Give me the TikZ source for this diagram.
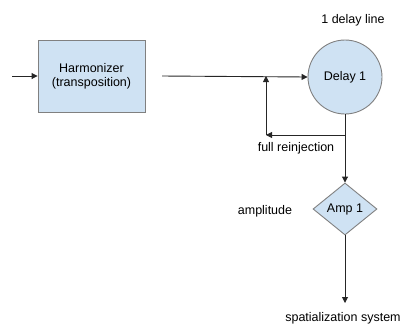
\documentclass[tikz,border=0pt]{standalone}
\usepackage{fontspec}
\setmainfont{Liberation Sans}
\usetikzlibrary{shapes.geometric,arrows.meta}
\definecolor{boxfill}{HTML}{CFE2F3}
\definecolor{boxedge}{HTML}{808080}
\begin{document}
\begin{tikzpicture}[x=1pt,y=-1pt,
  every node/.style={font=\fontsize{12.5}{14}\selectfont, inner sep=0pt},
  block/.style={draw=boxedge, fill=boxfill, line width=0.9pt},
  link/.style={draw=black!85, line width=0.9pt},
  arr/.style={link, -{Triangle[length=6pt,width=6pt]}}]
  \useasboundingbox (0,0) rectangle (406,325);
  % blocks
  \node[block, minimum width=107pt, minimum height=72pt, align=center] (harm) at (91.5,76) {Harmonizer\\(transposition)};
  \node[block, circle, minimum size=74pt] (delay) at (345,77) {Delay 1};
  \node[block, diamond, minimum width=64pt, minimum height=52pt, inner sep=0pt] (amp) at (345,209) {Amp 1};
  % labels
  \node (title) at (353,20) {1 delay line};
  \node (fb) at (296,148) {full reinjection};
  \node (ampl) at (265,211) {amplitude};
  \node (out) at (343,318) {spatialization system};
  % free ends
  \coordinate (in) at (12,76);
  \coordinate (src) at (162,76);
  \coordinate (tap) at (345,135);
  \coordinate (back) at (266,135);
  \coordinate (merge) at (266,76);
  \coordinate (sink) at (345,303);
  % connectors
  \draw[arr] (in) -- (harm.west);
  \draw[arr] (src) -- (delay.west);
  \draw[arr] (delay.south) -- (amp.north);
  \draw[arr] (tap) -- (back);
  \draw[arr] (back) -- (merge);
  \draw[arr] (amp.south) -- (sink);
\end{tikzpicture}
\end{document}
